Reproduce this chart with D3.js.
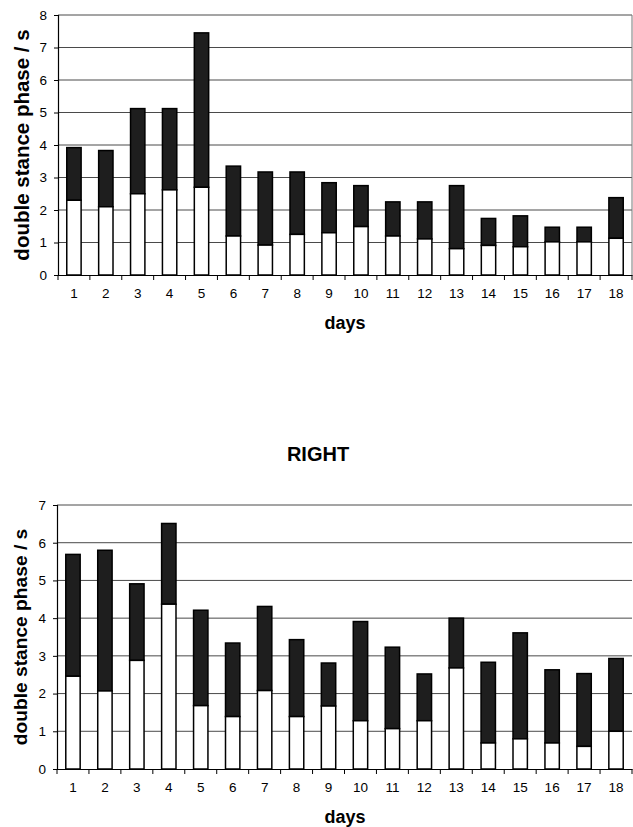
<!DOCTYPE html>
<html>
<head>
<meta charset="utf-8">
<script src="https://cdn.jsdelivr.net/npm/d3@7"></script>
<style>
    body { margin: 0; background: #fff; }
    svg { display: block; font-family: "Liberation Sans", Arial, sans-serif; }
</style>
</head>
<body>
<div id="chart"></div>
<script>

// days on the x axis
const days = ["1","2","3","4","5","6","7","8","9","10","11","12","13","14","15","16","17","18"];

// upper panel (white = lower part of bar, total = top of dark part)
const topWhite = [2.3, 2.1, 2.5, 2.62, 2.7, 1.2, 0.92, 1.25, 1.3, 1.49, 1.2, 1.11, 0.81, 0.91, 0.87, 1.02, 1.02, 1.13];
const topTotal = [3.92, 3.83, 5.12, 5.12, 7.45, 3.35, 3.17, 3.17, 2.84, 2.75, 2.25, 2.25, 2.75, 1.74, 1.82, 1.47, 1.47, 2.38];

// lower panel, RIGHT
const rightWhite = [2.46, 2.07, 2.88, 4.37, 1.68, 1.39, 2.08, 1.39, 1.67, 1.28, 1.07, 1.28, 2.68, 0.69, 0.8, 0.69, 0.6, 1.0];
const rightTotal = [5.69, 5.8, 4.91, 6.51, 4.21, 3.34, 4.31, 3.43, 2.81, 3.91, 3.23, 2.52, 4.0, 2.83, 3.61, 2.63, 2.53, 2.93];

const topTicks = [0, 1, 2, 3, 4, 5, 6, 7, 8];
const rightTicks = [0, 1, 2, 3, 4, 5, 6, 7];

const svg = d3.select("#chart").append("svg")
    .attr("width", 633)
    .attr("height", 827);

class StackPanel {

    constructor(svg, opts) {
        this.svg = svg;
        this.opts = opts;
        this.initVis();
    }

    initVis() {
        let vis = this;
        let o = vis.opts;

        vis.g = vis.svg.append("g");

        vis.x = d3.scaleBand()
            .domain(days)
            .range([o.left, o.right])
            .paddingInner(0.55)
            .paddingOuter(0.275);

        vis.y = d3.scaleLinear()
            .domain([0, o.max])
            .range([o.bottom, o.top]);

        // gridlines
        vis.g.append("g")
            .selectAll("line")
            .data(o.ticks.filter(d => d > 0))
            .enter().append("line")
            .attr("x1", o.left)
            .attr("x2", o.right)
            .attr("y1", d => vis.y(d))
            .attr("y2", d => vis.y(d))
            .attr("stroke", "#4a4a4a")
            .attr("stroke-width", 1);

        if (o.rightBorder) {
            vis.g.append("line")
                .attr("x1", o.right).attr("x2", o.right)
                .attr("y1", o.top).attr("y2", o.bottom)
                .attr("stroke", "#777");
        }

        vis.updateVis();
    }

    updateVis() {
        let vis = this;
        let o = vis.opts;

        let rows = days.map((d, i) => ({day: d, white: o.white[i], total: o.total[i]}));

        let bars = vis.g.append("g")
            .selectAll("g")
            .data(rows)
            .enter().append("g");

        // dark upper part
        bars.append("rect")
            .attr("x", d => vis.x(d.day))
            .attr("width", vis.x.bandwidth())
            .attr("y", d => vis.y(d.total))
            .attr("height", d => vis.y(d.white) - vis.y(d.total))
            .attr("fill", "#1e1e1e")
            .attr("stroke", "#000")
            .attr("stroke-width", 1.5);

        // white lower part
        bars.append("rect")
            .attr("x", d => vis.x(d.day))
            .attr("width", vis.x.bandwidth())
            .attr("y", d => vis.y(d.white))
            .attr("height", d => vis.y(0) - vis.y(d.white))
            .attr("fill", "#fff")
            .attr("stroke", "#000")
            .attr("stroke-width", 1.5);

        // y axis
        let yAxis = d3.axisLeft(vis.y)
            .tickValues(o.ticks)
            .tickFormat(d3.format("d"))
            .tickSize(4)
            .tickPadding(7);

        vis.g.append("g")
            .attr("transform", `translate(${o.left},0)`)
            .call(yAxis)
            .call(g => g.select(".domain").attr("stroke", "#000").attr("stroke-width", 1.2))
            .call(g => g.selectAll(".tick line").attr("stroke", "#000"))
            .call(g => g.selectAll("text").attr("font-size", 13.5).attr("fill", "#000"));

        // x axis with ticks between days
        let xAxis = d3.axisBottom(vis.x).tickSize(0).tickPadding(13);

        vis.g.append("g")
            .attr("transform", `translate(0,${o.bottom})`)
            .call(xAxis)
            .call(g => g.select(".domain").attr("stroke", "#000").attr("stroke-width", 1.2))
            .call(g => g.selectAll("text").attr("font-size", 13.5).attr("fill", "#000"));

        let step = vis.x.step();
        let bounds = d3.range(days.length + 1).map(i => o.left + i * step);
        vis.g.append("g")
            .selectAll("line")
            .data(bounds)
            .enter().append("line")
            .attr("x1", d => d).attr("x2", d => d)
            .attr("y1", o.bottom).attr("y2", o.bottom + 5)
            .attr("stroke", "#000");

        // labels
        vis.g.append("text")
            .attr("transform", `translate(${o.yLabelX},${(o.top + o.bottom) / 2}) rotate(-90)`)
            .attr("text-anchor", "middle")
            .attr("font-weight", "bold")
            .attr("font-size", o.yLabelSize)
            .text("double stance phase / s");

        vis.g.append("text")
            .attr("x", 345)
            .attr("y", o.xLabelY)
            .attr("text-anchor", "middle")
            .attr("font-weight", "bold")
            .attr("font-size", 18)
            .text("days");
    }
}

new StackPanel(svg, {
    left: 58, right: 632, top: 15, bottom: 275, max: 8,
    ticks: topTicks, white: topWhite, total: topTotal,
    rightBorder: true, yLabelX: 29, yLabelSize: 20.5, xLabelY: 329
});

new StackPanel(svg, {
    left: 57, right: 632, top: 505, bottom: 769, max: 7,
    ticks: rightTicks, white: rightWhite, total: rightTotal,
    rightBorder: false, yLabelX: 27, yLabelSize: 19.2, xLabelY: 823
});

svg.append("text")
    .attr("x", 318)
    .attr("y", 461)
    .attr("text-anchor", "middle")
    .attr("font-weight", "bold")
    .attr("font-size", 20)
    .text("RIGHT");

</script>
</body>
</html>
